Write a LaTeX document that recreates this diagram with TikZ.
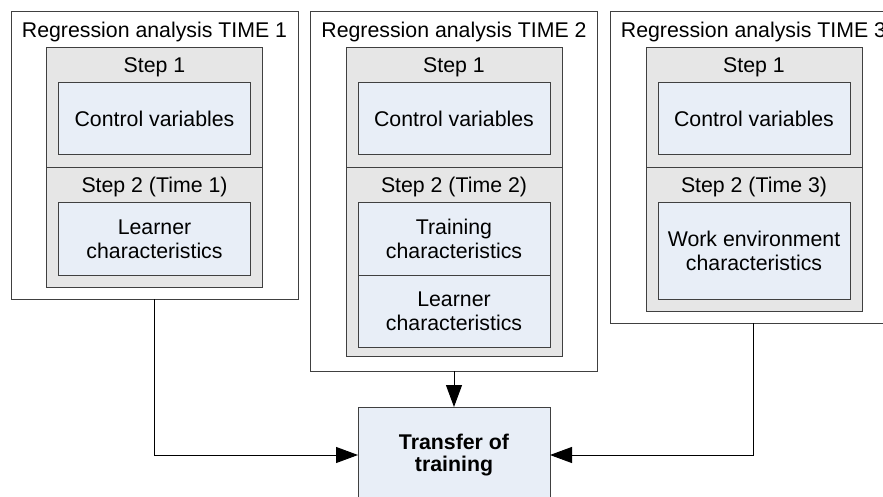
\documentclass[tikz,border=0pt]{standalone}
\usepackage{fontspec}
\setmainfont{Liberation Sans}
\usetikzlibrary{arrows.meta}
\definecolor{boxblue}{RGB}{232,238,247}
\definecolor{panelgray}{RGB}{230,230,230}
\definecolor{edgegray}{RGB}{64,64,64}
\begin{document}
\begin{tikzpicture}[x=1pt,y=-1pt,
  font=\fontsize{21.3pt}{24pt}\selectfont,
  frame/.style={draw=edgegray, line width=1pt, inner sep=0pt, outer sep=0pt},
  analysis/.style={frame, fill=white, minimum width=287pt},
  stepgroup/.style={frame, fill=panelgray, minimum width=216pt},
  varbox/.style={frame, fill=boxblue, align=center, minimum width=192pt},
  bandtext/.style={anchor=base, inner sep=0pt},
  link/.style={draw=black, line width=1pt, -{Triangle[length=22pt,width=16pt]}}]
\useasboundingbox (0,0) rectangle (883,497);
\clip (0,0) rectangle (883,497);

% dividers between Step 1 and Step 2
\coordinate (split) at (0,168);

% ---- Regression analysis TIME 1
\node[analysis, minimum height=287pt] (a1) at (154.5,155.5) {};
\node[bandtext] (t1) at (154.5,37.5) {Regression analysis TIME 1};
\node[stepgroup, minimum height=239pt] (g1) at (154.5,167.5) {};
\draw[frame] (g1.west |- split) -- (g1.east |- split);
\node[bandtext] (s1a) at (154.5,73) {Step 1};
\node[varbox, minimum height=72pt] (c1) at (154.5,119) {Control variables};
\node[bandtext] (s1b) at (154.5,193) {Step 2 (Time 1)};
\node[varbox, minimum height=72pt] (l1) at (154.5,239) {Learner\\characteristics};

% ---- Regression analysis TIME 2
\node[analysis, minimum height=359pt] (a2) at (454,191.5) {};
\node[bandtext] (t2) at (454,37.5) {Regression analysis TIME 2};
\node[stepgroup, minimum height=308pt] (g2) at (454,202) {};
\draw[frame] (g2.west |- split) -- (g2.east |- split);
\node[bandtext] (s2a) at (454,73) {Step 1};
\node[varbox, minimum height=72pt] (c2) at (454,119) {Control variables};
\node[bandtext] (s2b) at (454,193) {Step 2 (Time 2)};
\node[varbox, minimum height=72pt] (tc2) at (454,239) {Training\\characteristics};
\node[varbox, minimum height=72pt] (l2) at (454,311) {Learner\\characteristics};

% ---- Regression analysis TIME 3
\node[analysis, minimum height=311pt] (a3) at (753.5,167.5) {};
\node[bandtext] (t3) at (753.5,37.5) {Regression analysis TIME 3};
\node[stepgroup, minimum height=263pt] (g3) at (754,179.5) {};
\draw[frame] (g3.west |- split) -- (g3.east |- split);
\node[bandtext] (s3a) at (754,73) {Step 1};
\node[varbox, minimum height=72pt] (c3) at (754,119) {Control variables};
\node[bandtext] (s3b) at (754,193) {Step 2 (Time 3)};
\node[varbox, minimum height=96pt] (w3) at (754,251) {Work environment\\characteristics};

% ---- outcome
\node[varbox, minimum height=96pt, font=\fontsize{21.3pt}{22pt}\selectfont\bfseries] (tr) at (454,455) {Transfer of\\training};

% ---- connectors
\draw[link] (a1.south) |- (tr.west);
\draw[link] (a3.south) |- (tr.east);
\draw[link] (a2.south) -- (tr.north);
\end{tikzpicture}
\end{document}
